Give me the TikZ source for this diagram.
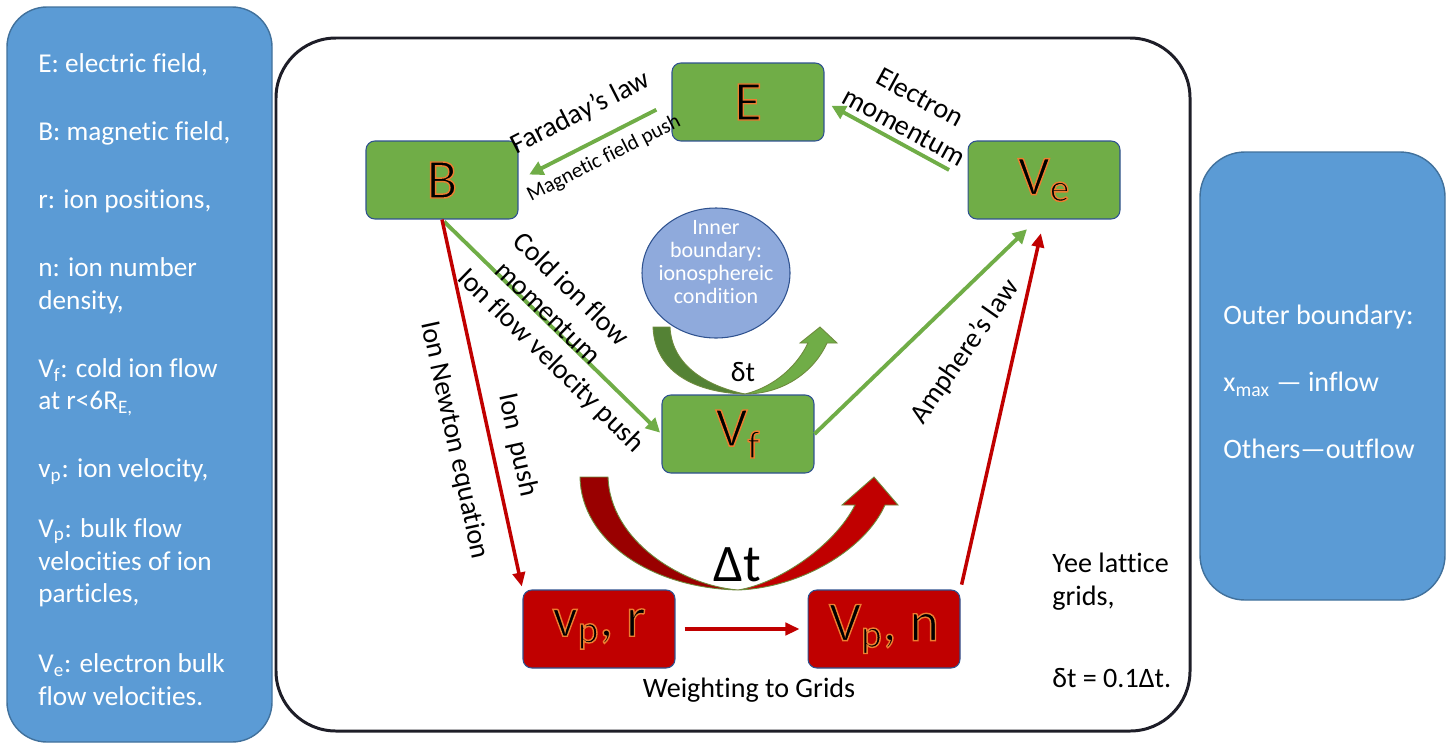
\documentclass[tikz,border=0pt]{standalone}
\usepackage{fontspec}
\setmainfont{Carlito}[Ligatures={NoCommon}]
\usetikzlibrary{arrows.meta}

\definecolor{sideblue}{HTML}{5B9BD5}
\definecolor{sideline}{HTML}{41719C}
\definecolor{fieldgreen}{HTML}{70AD47}
\definecolor{darkgreen}{HTML}{548235}
\definecolor{ionred}{HTML}{C00000}
\definecolor{darkred}{HTML}{990000}
\definecolor{boxline}{HTML}{2F528F}
\definecolor{innerblue}{HTML}{8FAADC}
\definecolor{framecol}{HTML}{1E1E28}
\definecolor{curveedge}{HTML}{6E8B3D}

% orange outline round the box labels (fill + stroke text)
\newcommand\glow[1]{\special{pdf:literal direct 2 Tr 0.8 w 0.93 0.49 0.19 RG}#1\special{pdf:literal direct 0 Tr}}

\begin{document}
\begin{tikzpicture}[
    x=0.02cm,y=-0.02cm,
    box/.style={draw=boxline, line width=0.6pt, rounded corners=5pt, minimum width=3.04cm,
      minimum height=1.56cm, inner sep=0pt, font=\fontsize{32}{36}\selectfont},
    greenbox/.style={box, fill=fieldgreen},
    redbox/.style={box, fill=ionred},
    sidebox/.style={draw=sideline, fill=sideblue, line width=0.8pt, rounded corners=0.8cm},
    sidetext/.style={text=white, align=left, inner sep=0pt, anchor=north west,
      font=\fontsize{15.5}{18.7}\selectfont},
    plaintext/.style={align=left, inner sep=0pt, anchor=north west, font=\fontsize{16}{18.5}\selectfont},
    lawtext/.style={font=\fontsize{16}{19}\selectfont, inner sep=2pt, align=center},
    garrow/.style={draw=fieldgreen, line width=2.2pt, -{Triangle[length=8pt,width=8pt]}},
    rarrow/.style={draw=ionred, line width=2pt, -{Triangle[length=8pt,width=7pt]}},
    curvedarrow/.style={draw=curveedge, line width=0.5pt}
  ]
  \useasboundingbox (0,0) rectangle (1456,744);

  % side panels and frame
  \draw[sidebox] (7,7) rectangle (272,742);
  \draw[sidebox, rounded corners=0.9cm] (1200,152) rectangle (1445,600);
  \draw[framecol, line width=1.7pt, rounded corners=1.2cm] (276,38) rectangle (1190,731);

  \node[sidetext] (legend) at (38,53) {E: electric field,\\[20pt]
    B: magnetic field,\\[20pt]
    r: ion positions,\\[20pt]
    n: ion number\\density,\\[20pt]
    V\textsubscript{f}: cold ion flow\\at r<6R\textsubscript{E,}\\[20pt]
    v\textsubscript{p}: ion velocity,\\[15pt]
    V\textsubscript{p}: bulk flow\\velocities of ion\\particles,\\[21pt]
    V\textsubscript{e}: electron bulk\\flow velocities.};
  \node[sidetext, font=\fontsize{16}{19}\selectfont] (outer) at (1223,305) {Outer boundary:\\[19pt]
    x\textsubscript{max} — inflow\\[19pt]
    Others—outflow};

  % field and particle quantities
  \node[greenbox] (efield) at (748,102) {\glow{E}};
  \node[greenbox] (bfield) at (442,180) {\glow{B}};
  \node[greenbox] (velec) at (1044,180) {\glow{V\textsubscript{e}}};
  \node[greenbox] (vcold) at (738,434) {\glow{V\textsubscript{f}}};
  \node[redbox] (ionpart) at (599,629) {\glow{v\textsubscript{p}, r}};
  \node[redbox] (ionbulk) at (884,629) {\glow{V\textsubscript{p}, n}};

  \draw[draw=boxline, fill=innerblue, line width=0.6pt] (716,273) ellipse [x radius=74, y radius=65];
  \node[text=white, align=center, font=\fontsize{12.5}{13}\selectfont] (inner) at (716,262)
    {Inner\\boundary:\\ionosphereic\\condition};

  % time step arrows
  \draw[curvedarrow, fill=darkgreen] (653,327) .. controls (655,375) and (700,393) .. (745,394)
    .. controls (715,388) and (672,370) .. (670,327) -- cycle;
  \draw[curvedarrow, fill=fieldgreen] (745,394) .. controls (785,394) and (815,370) .. (827,343)
    -- (837,343) -- (820,327) -- (800,343) -- (808,343)
    .. controls (795,370) and (770,388) .. (745,394) -- cycle;
  \node[lawtext] (smallstep) at (743,372) {δt};

  \draw[curvedarrow, fill=darkred] (580,477) .. controls (581,540) and (650,588) .. (738,590)
    .. controls (680,585) and (610,540) .. (608,477) -- cycle;
  \draw[curvedarrow, fill=ionred] (738,590) .. controls (800,588) and (865,550) .. (885,505)
    -- (898,505) -- (874,477) -- (842,505) -- (855,505)
    .. controls (835,545) and (780,583) .. (738,590) -- cycle;
  \node[lawtext, font=\fontsize{30}{34}\selectfont] (bigstep) at (737,565) {Δt};

  % field solver
  \draw[garrow, shorten <=0.34cm, shorten >=0.24cm] (efield.west) -- (bfield.east)
    node[lawtext, midway, sloped, above=8pt] {Faraday’s law}
    node[midway, sloped, below=3pt, inner sep=2pt, font=\fontsize{12}{14}\selectfont] {Magnetic field push};
  \draw[garrow, shorten <=0.42cm, shorten >=0.16cm] (velec.west) -- (efield.east)
    node[lawtext, midway, sloped, above=1pt] {Electron\\momentum};
  \draw[garrow, shorten <=0.06cm, shorten >=0.04cm] (bfield.south) -- (vcold.west)
    node[lawtext, pos=0.46, sloped, above=-4pt] {Cold ion flow\\momentum}
    node[lawtext, pos=0.575, sloped, below=4.5pt] {Ion flow velocity push};
  \draw[garrow, shorten >=0.28cm] (vcold.east) -- (velec.260);
  \node[lawtext, rotate=55] (ampere) at (965,352) {Amphere’s law};

  % particle pusher
  \draw[rarrow, shorten >=0.06cm] (bfield.south) -- (ionpart.north west)
    node[lawtext, pos=0.624, sloped, above=5pt] {Ion\ \ push}
    node[lawtext, pos=0.577, sloped, below=10pt] {Ion Newton equation};
  \draw[rarrow, shorten <=0.18cm, shorten >=0.16cm] (ionpart) -- (ionbulk);
  \draw[rarrow, shorten <=0.1cm, shorten >=0.28cm] (ionbulk.north east) -- (velec.south);
  \node[lawtext] (weighting) at (749,690) {Weighting to Grids};

  \node[plaintext] (yee) at (1052,553) {Yee lattice\\grids,\\[28pt] δt = 0.1Δt.};
\end{tikzpicture}
\end{document}
